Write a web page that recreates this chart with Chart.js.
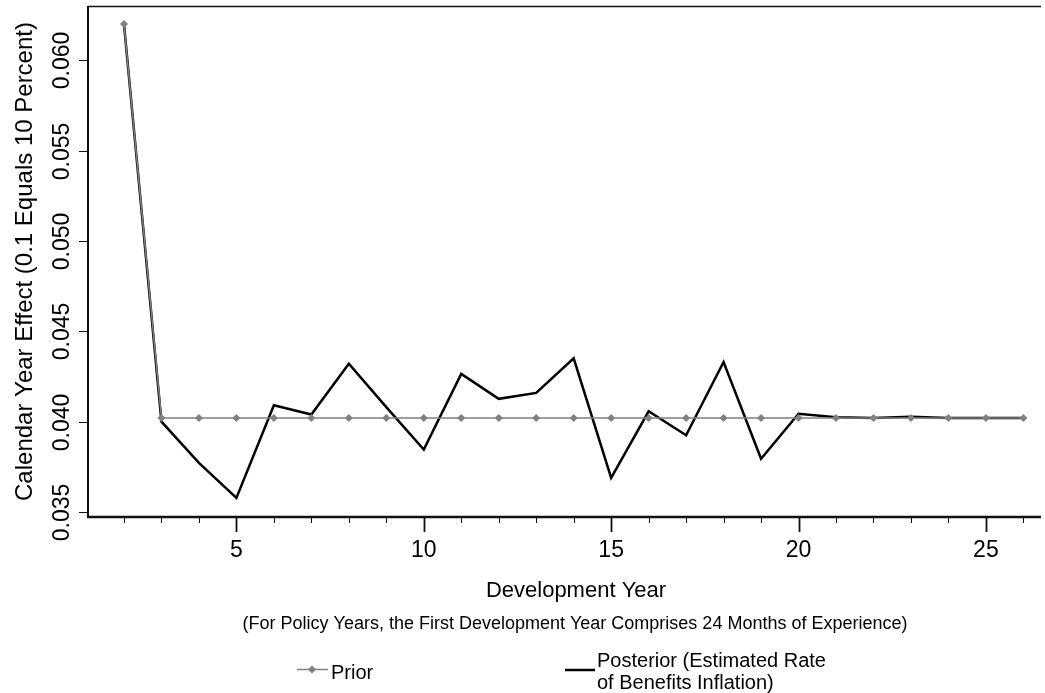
<!DOCTYPE html>
<html>
<head>
<meta charset="utf-8">
<script src="https://cdn.jsdelivr.net/npm/chart.js@4.4.0/dist/chart.umd.min.js"></script>
<style>
  html, body { margin: 0; padding: 0; background: #fff; }
  #wrap { width: 1045px; height: 693px; position: relative; }
</style>
</head>
<body>
<div id="wrap"><canvas id="cyChart"></canvas></div>
<script>
// development years on the x axis
const devYears = [2, 3, 4, 5, 6, 7, 8, 9, 10, 11, 12, 13, 14, 15, 16, 17, 18, 19, 20, 21, 22, 23, 24, 25, 26];

const priorValues = [0.0620, 0.0402, 0.0402, 0.0402, 0.0402, 0.0402, 0.0402, 0.0402, 0.0402, 0.0402,
  0.0402, 0.0402, 0.0402, 0.0402, 0.0402, 0.0402, 0.0402, 0.0402, 0.0402, 0.0402,
  0.0402, 0.0402, 0.0402, 0.0402, 0.0402];

const posteriorValues = [0.0620, 0.0400, 0.03772, 0.03578, 0.0409, 0.04039, 0.0432, 0.0408, 0.03845, 0.04264,
  0.04126, 0.04159, 0.0435, 0.03689, 0.04057, 0.03924, 0.0433, 0.03794, 0.04043, 0.04024,
  0.0402, 0.04027, 0.0402, 0.0402, 0.0402];

const yTicks = [0.035, 0.040, 0.045, 0.050, 0.055, 0.060];
const xMajorTicks = [5, 10, 15, 20, 25];

const FONT = '"Liberation Sans", Arial, Helvetica, sans-serif';
const PRIOR_COLOR = "#808080";
const POST_COLOR = "#000000";

const xTitle = "Development Year";
const xSubtitle = "(For Policy Years, the First Development Year Comprises 24 Months of Experience)";
const yTitle = "Calendar Year Effect (0.1 Equals 10 Percent)";
const priorLabel = "Prior";
const posteriorLabel = ["Posterior (Estimated Rate", "of Benefits Inflation)"];

// axes, ticks, titles and legend drawn by hand (rotated y labels, two tick lengths)
const framePlugin = {
  id: "framePlugin",
  afterDraw(chart) {
    const { ctx, chartArea } = chart;
    const xs = chart.scales.x;
    const ys = chart.scales.y;
    const { left, top, right, bottom } = chartArea;

    ctx.save();
    ctx.strokeStyle = "#111";
    ctx.lineCap = "butt";

    // top border
    ctx.lineWidth = 1.5;
    ctx.beginPath();
    ctx.moveTo(left, top + 0.5);
    ctx.lineTo(right, top + 0.5);
    ctx.stroke();

    // left axis
    ctx.lineWidth = 2;
    ctx.beginPath();
    ctx.moveTo(left, top);
    ctx.lineTo(left, bottom + 1);
    ctx.stroke();

    // bottom axis
    ctx.lineWidth = 2.5;
    ctx.beginPath();
    ctx.moveTo(left - 1, bottom);
    ctx.lineTo(right, bottom);
    ctx.stroke();

    // y ticks + rotated labels
    ctx.lineWidth = 1;
    ctx.fillStyle = "#000";
    ctx.font = "23px " + FONT;
    ctx.textAlign = "center";
    ctx.textBaseline = "middle";
    yTicks.forEach(v => {
      const py = Math.round(ys.getPixelForValue(v)) + 0.5;
      ctx.beginPath();
      ctx.moveTo(left - 9, py);
      ctx.lineTo(left, py);
      ctx.stroke();
      ctx.save();
      ctx.translate(63, py);
      ctx.rotate(-Math.PI / 2);
      ctx.fillText(v.toFixed(3), 0, 0);
      ctx.restore();
    });

    // x ticks: minor every year, major every 5
    devYears.forEach(v => {
      const px = Math.round(xs.getPixelForValue(v)) + 0.5;
      const major = xMajorTicks.includes(v);
      ctx.lineWidth = major ? 1.8 : 1;
      ctx.beginPath();
      ctx.moveTo(px, bottom);
      ctx.lineTo(px, bottom + (major ? 15 : 6));
      ctx.stroke();
    });
    ctx.font = "23px " + FONT;
    ctx.textBaseline = "alphabetic";
    xMajorTicks.forEach(v => {
      ctx.fillText(String(v), xs.getPixelForValue(v), 557);
    });

    // titles
    ctx.font = "22px " + FONT;
    ctx.fillText(xTitle, 576, 597);
    ctx.font = "18px " + FONT;
    ctx.fillText(xSubtitle, 575, 629);

    ctx.save();
    ctx.font = "24px " + FONT;
    ctx.textBaseline = "middle";
    ctx.translate(25, (top + bottom) / 2);
    ctx.rotate(-Math.PI / 2);
    ctx.fillText(yTitle, 0, 0);
    ctx.restore();

    // legend
    ctx.strokeStyle = PRIOR_COLOR;
    ctx.fillStyle = PRIOR_COLOR;
    ctx.lineWidth = 1.5;
    ctx.beginPath();
    ctx.moveTo(297, 669.5);
    ctx.lineTo(328, 669.5);
    ctx.stroke();
    ctx.beginPath();
    ctx.moveTo(312, 665.5);
    ctx.lineTo(316, 669.5);
    ctx.lineTo(312, 673.5);
    ctx.lineTo(308, 669.5);
    ctx.closePath();
    ctx.fill();

    ctx.strokeStyle = POST_COLOR;
    ctx.lineWidth = 2.5;
    ctx.beginPath();
    ctx.moveTo(565, 670);
    ctx.lineTo(595, 670);
    ctx.stroke();

    ctx.fillStyle = "#000";
    ctx.font = "20px " + FONT;
    ctx.textAlign = "left";
    ctx.fillText(priorLabel, 331, 679);
    ctx.fillText(posteriorLabel[0], 597, 667);
    ctx.fillText(posteriorLabel[1], 597, 689);

    ctx.restore();
  }
};

const ctx = document.getElementById("cyChart").getContext("2d");
const cyChart = new Chart(ctx, {
  type: "line",
  data: {
    datasets: [
      {
        label: priorLabel,
        data: devYears.map((x, i) => ({ x, y: priorValues[i] })),
        borderColor: PRIOR_COLOR,
        backgroundColor: PRIOR_COLOR,
        borderWidth: 1.5,
        pointStyle: "rectRot",
        pointRadius: 4,
        pointBorderWidth: 0,
        tension: 0
      },
      {
        label: posteriorLabel.join(" "),
        data: devYears.map((x, i) => ({ x, y: posteriorValues[i] })),
        borderColor: POST_COLOR,
        backgroundColor: POST_COLOR,
        borderWidth: 2.5,
        pointRadius: 0,
        tension: 0
      }
    ]
  },
  options: {
    responsive: true,
    maintainAspectRatio: false,
    animation: false,
    layout: { padding: { left: 88, top: 6, right: 0, bottom: 176 } },
    plugins: {
      legend: { display: false },
      tooltip: { enabled: false }
    },
    scales: {
      x: { type: "linear", min: 1.04, max: 26.47, display: false },
      y: { type: "linear", min: 0.03472, max: 0.0630, display: false }
    }
  },
  plugins: [framePlugin]
});
</script>
</body>
</html>
